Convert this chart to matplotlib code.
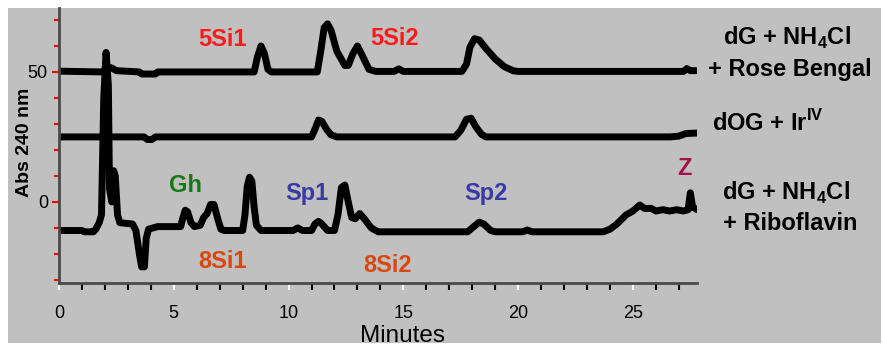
import matplotlib
matplotlib.use("Agg")
import matplotlib.pyplot as plt
from matplotlib.patches import Rectangle

plt.rcParams['font.family'] = ['Liberation Sans', 'DejaVu Sans']
plt.rcParams['mathtext.fontset'] = 'custom'
plt.rcParams['mathtext.rm'] = 'Liberation Sans'
plt.rcParams['mathtext.bf'] = 'Liberation Sans:bold'

# chromatograms, time in minutes / absorbance (offset traces)
rose_t = [0, 1.9, 2.1, 2.3, 2.5, 3.5, 3.6, 4.2, 4.3, 8.5, 8.65, 8.8, 8.95, 9.1, 9.25,
          11.25, 11.4, 11.55, 11.7, 11.85, 12.1, 12.45, 12.6, 12.8, 13.0, 13.2, 13.5, 13.8,
          14.6, 14.8, 15.0, 17.55, 17.75, 17.9, 18.1, 18.3, 18.6, 19.0, 19.4, 19.8, 20.0,
          27.2, 27.35, 27.5, 27.8]
rose_v = [50.3, 50, 52, 51.5, 50.5, 50, 49.2, 49.2, 50, 50, 56, 60, 57, 51, 50,
          50, 58, 67, 68.5, 66, 58, 52.5, 52.5, 57, 60, 56.5, 51, 50.2,
          50.2, 51.2, 50.2, 50.2, 53, 59.5, 62.8, 62.3, 59, 55, 52, 50.4, 50.2,
          50.2, 51.3, 50.5, 50.5]

ir_t = [0, 3.7, 3.85, 4.05, 4.2, 11.0, 11.15, 11.3, 11.45, 11.65, 11.85, 12.1,
        17.25, 17.5, 17.75, 17.95, 18.15, 18.4, 18.6, 26.6, 27.0, 27.3, 27.8]
ir_v = [25, 25, 24, 24, 25, 25, 28, 31.5, 31, 28, 25.8, 25,
        25, 27.5, 31.8, 32.2, 29, 26, 25, 25, 25.3, 26.3, 26.5]

ribo_t = [0, 1.0, 1.1, 1.5, 1.6, 1.75, 1.85, 1.95, 2.05, 2.15, 2.2, 2.3, 2.38, 2.45,
          2.55, 2.65, 3.2, 3.35, 3.5, 3.6, 3.72, 3.8, 3.9, 4.3, 5.3, 5.4, 5.5, 5.6,
          5.75, 5.9, 6.15, 6.3, 6.45, 6.6, 6.75, 6.9, 7.05, 7.2, 8.0, 8.1, 8.2, 8.3,
          8.4, 8.5, 8.6, 8.8, 10.2, 10.4, 10.6, 11.0, 11.15, 11.3, 11.45, 11.7, 12.0,
          12.15, 12.3, 12.45, 12.6, 12.75, 12.9, 13.1, 13.3, 13.6, 13.9, 17.8, 18.0,
          18.3, 18.5, 18.8, 19.0, 20.2, 20.4, 20.6, 23.7, 24.0, 24.3, 24.7, 25.0,
          25.3, 25.5, 25.8, 26.0, 26.3, 26.6, 26.9, 27.2, 27.4, 27.5, 27.6, 27.8]
ribo_v = [-11, -11, -11.5, -11.5, -10.5, -8, -5, 40, 57.5, 45, 5, 0, 12, 10,
          -5, -8, -8.5, -11, -20, -25, -25, -14, -10.5, -9.5, -9.5, -6, -3.2, -3.8,
          -8, -9.5, -9, -6, -4.5, -1, -1, -6, -10.5, -11, -11, -5, 6, 9.5,
          8, -2, -9, -11, -11, -10, -11, -11, -8.5, -7.5, -8.5, -11, -11,
          -5, 5.5, 6.5, 0, -6, -6.5, -4.5, -6.5, -10, -11.5, -11.5, -10,
          -7.8, -8.5, -11, -11.5, -11.5, -10.8, -11.5, -11.5, -10.5, -8.5, -5, -3.5,
          -1.2, -2.5, -2.5, -3.5, -3, -3.5, -3, -3.5, -3, 3.5, -2, -3]

# peak labels: text, time, value, colour
peak_labels = [("5Si1", 7.1, 60, '#ff1a1a'), ("5Si2", 14.6, 60.4, '#ff1a1a'),
               ("Gh", 5.49, 3.8, '#137a13'), ("Sp1", 10.8, 0.8, '#3a3aa6'),
               ("Sp2", 18.6, 0.8, '#3a3aa6'), ("Z", 27.24, 10.4, '#a3124a'),
               ("8Si1", 7.1, -25.4, '#d9480f'), ("8Si2", 14.3, -26.9, '#d9480f')]

W, H = 883, 348
fig = plt.figure(figsize=(W / 100, H / 100), dpi=100)
fig.patch.set_facecolor('white')
fig.patches.append(Rectangle((8 / W, 1 - 343 / H), (881 - 8) / W, (343 - 8) / H,
                             transform=fig.transFigure, facecolor='#c0c0c0',
                             edgecolor='none', zorder=-10))

ax = fig.add_axes([59 / W, 1 - 283 / H, 638 / W, (283 - 8) / H])
ax.set_facecolor('none')

for t, v in [(rose_t, rose_v), (ir_t, ir_v), (ribo_t, ribo_v)]:
    ax.plot(t, v, color='black', lw=5, solid_joinstyle='round', solid_capstyle='round')

ax.set_xlim(0, 27.79)
ax.set_ylim(-31.2, 74.6)

ax.set_xticks(range(0, 30, 5))
ax.set_xticks(range(0, 28), minor=True)
ax.set_yticks([0, 50])
ax.set_yticks(range(-30, 80, 10), minor=True)
ax.tick_params(axis='x', which='major', color='white', length=5, width=1.5,
               labelsize=13, pad=11)
ax.tick_params(axis='x', which='minor', color='black', length=5, width=1.5)
ax.tick_params(axis='y', which='major', color='red', length=5, width=1.5,
               labelsize=13, pad=3)
ax.tick_params(axis='y', which='minor', color='red', length=3.5, width=1.5)

for s in ['top', 'right']:
    ax.spines[s].set_visible(False)
for s in ['left', 'bottom']:
    ax.spines[s].set_color('#4a4a4a')
    ax.spines[s].set_linewidth(2)

for txt, t, v, c in peak_labels:
    ax.text(t, v, txt, color=c, fontsize=17, fontweight='bold', ha='center', va='baseline')

# sample names at the right
fig.text(787 / W, 1 - 45 / H, r"dG + NH$_\mathbf{4}$Cl", fontsize=17, fontweight='bold',
         ha='center', va='baseline')
fig.text(790 / W, 1 - 76 / H, "+ Rose Bengal", fontsize=17, fontweight='bold',
         ha='center', va='baseline')
fig.text(768 / W, 1 - 131 / H, r"dOG + Ir$^\mathbf{IV}$", fontsize=17, fontweight='bold',
         ha='center', va='baseline')
fig.text(786 / W, 1 - 200 / H, r"dG + NH$_\mathbf{4}$Cl", fontsize=17, fontweight='bold',
         ha='center', va='baseline')
fig.text(790 / W, 1 - 230 / H, "+ Riboflavin", fontsize=17, fontweight='bold',
         ha='center', va='baseline')

fig.text(25 / W, 1 - 142 / H, "Abs 240 nm", fontsize=14, fontweight='bold',
         rotation=90, ha='center', va='center')
fig.text(403 / W, 1 - 342 / H, "Minutes", fontsize=17.5, ha='center', va='baseline')

fig.savefig("out.png", dpi=100)
